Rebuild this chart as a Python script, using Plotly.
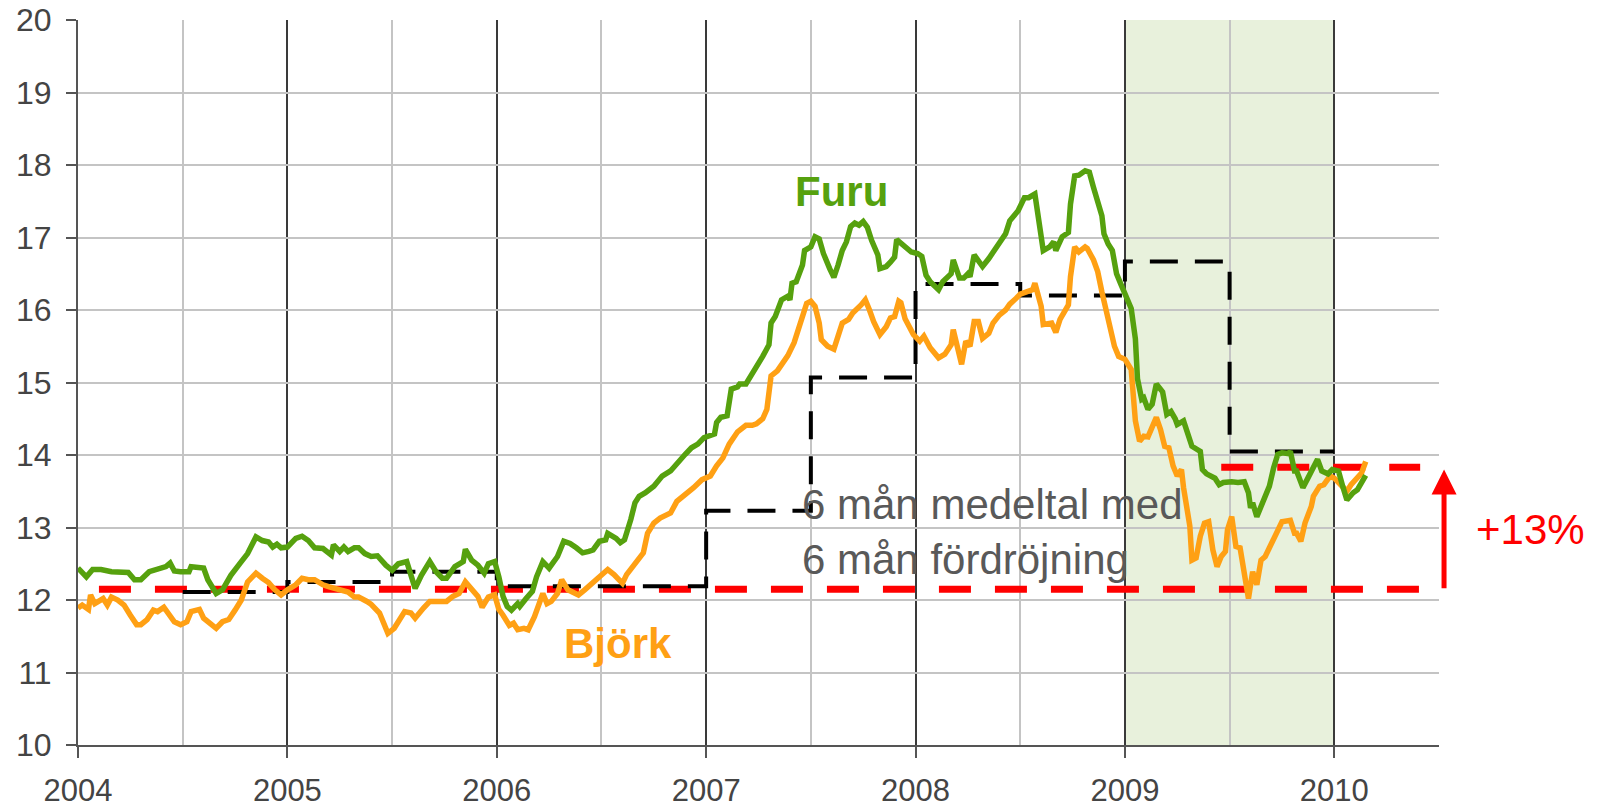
import plotly.graph_objects as go

# ---- data (decimal years, price level) ----
furu_t = [2004.00, 2004.04, 2004.07, 2004.11, 2004.16, 2004.19, 2004.24, 2004.27, 2004.30, 2004.34,
          2004.38, 2004.42, 2004.44, 2004.46, 2004.49, 2004.53, 2004.54, 2004.60, 2004.62, 2004.66,
          2004.69, 2004.73, 2004.78, 2004.81, 2004.85, 2004.88, 2004.91, 2004.93, 2004.95, 2004.97,
          2005.00, 2005.04, 2005.07, 2005.10, 2005.13, 2005.17, 2005.21, 2005.22, 2005.25, 2005.27,
          2005.29, 2005.32, 2005.34, 2005.37, 2005.40, 2005.43, 2005.47, 2005.50, 2005.53, 2005.57,
          2005.61, 2005.64, 2005.68, 2005.71, 2005.74, 2005.76, 2005.80, 2005.84, 2005.85, 2005.88,
          2005.91, 2005.94, 2005.96, 2005.99, 2006.01, 2006.03, 2006.05, 2006.07, 2006.10, 2006.11,
          2006.14, 2006.17, 2006.19, 2006.22, 2006.25, 2006.27, 2006.29, 2006.32, 2006.35, 2006.38,
          2006.41, 2006.44, 2006.46, 2006.49, 2006.52, 2006.53, 2006.57, 2006.59, 2006.61, 2006.64,
          2006.66, 2006.68, 2006.71, 2006.75, 2006.79, 2006.83, 2006.86, 2006.90, 2006.93, 2006.96,
          2006.99, 2007.02, 2007.04, 2007.05, 2007.07, 2007.10, 2007.12, 2007.15, 2007.16, 2007.19,
          2007.21, 2007.23, 2007.25, 2007.27, 2007.30, 2007.31, 2007.33, 2007.36, 2007.39, 2007.40,
          2007.41, 2007.43, 2007.46, 2007.47, 2007.50, 2007.52, 2007.54, 2007.56, 2007.59, 2007.61,
          2007.63, 2007.65, 2007.67, 2007.69, 2007.71, 2007.73, 2007.75, 2007.77, 2007.79, 2007.82,
          2007.83, 2007.86, 2007.88, 2007.90, 2007.91, 2007.94, 2007.96, 2007.98, 2008.01, 2008.03,
          2008.05, 2008.07, 2008.11, 2008.13, 2008.17, 2008.18, 2008.21, 2008.23, 2008.25, 2008.26,
          2008.28, 2008.32, 2008.35, 2008.38, 2008.41, 2008.43, 2008.45, 2008.49, 2008.52, 2008.54,
          2008.57, 2008.59, 2008.61, 2008.64, 2008.66, 2008.67, 2008.70, 2008.73, 2008.74, 2008.76,
          2008.78, 2008.81, 2008.83, 2008.85, 2008.89, 2008.90, 2008.92, 2008.94, 2008.96, 2008.98,
          2009.00, 2009.03, 2009.05, 2009.06, 2009.08, 2009.09, 2009.11, 2009.13, 2009.15, 2009.18,
          2009.20, 2009.22, 2009.24, 2009.25, 2009.28, 2009.30, 2009.32, 2009.36, 2009.37, 2009.39,
          2009.41, 2009.43, 2009.45, 2009.47, 2009.51, 2009.54, 2009.57, 2009.59, 2009.60, 2009.61,
          2009.63, 2009.66, 2009.68, 2009.69, 2009.71, 2009.73, 2009.75, 2009.78, 2009.79, 2009.81,
          2009.82, 2009.85, 2009.87, 2009.90, 2009.92, 2009.94, 2009.97, 2009.99, 2010.02, 2010.04,
          2010.06, 2010.09, 2010.11, 2010.13, 2010.15]
furu_v = [12.44, 12.32, 12.42, 12.42, 12.39, 12.38, 12.38, 12.28, 12.28, 12.39,
          12.42, 12.46, 12.51, 12.40, 12.39, 12.39, 12.46, 12.44, 12.28, 12.09,
          12.14, 12.34, 12.53, 12.64, 12.87, 12.82, 12.80, 12.73, 12.77, 12.72,
          12.73, 12.85, 12.88, 12.82, 12.72, 12.71, 12.62, 12.76, 12.67, 12.73,
          12.67, 12.72, 12.72, 12.64, 12.60, 12.61, 12.48, 12.41, 12.50, 12.53,
          12.16, 12.34, 12.53, 12.39, 12.30, 12.30, 12.46, 12.53, 12.70, 12.55,
          12.48, 12.37, 12.50, 12.53, 12.32, 12.05, 11.91, 11.86, 11.95, 11.91,
          12.02, 12.12, 12.32, 12.53, 12.44, 12.53, 12.60, 12.81, 12.78, 12.72,
          12.65, 12.67, 12.69, 12.81, 12.83, 12.92, 12.85, 12.79, 12.83, 13.11,
          13.34, 13.43, 13.48, 13.57, 13.71, 13.78, 13.89, 14.01, 14.10, 14.15,
          14.24, 14.28, 14.29, 14.45, 14.52, 14.54, 14.91, 14.94, 14.98, 14.98,
          15.07, 15.18, 15.27, 15.36, 15.52, 15.82, 15.91, 16.14, 16.19, 16.14,
          16.37, 16.39, 16.62, 16.82, 16.87, 17.01, 16.98, 16.78, 16.57, 16.45,
          16.62, 16.82, 16.94, 17.15, 17.20, 17.17, 17.22, 17.14, 16.96, 16.76,
          16.57, 16.60, 16.66, 16.73, 16.97, 16.89, 16.85, 16.80, 16.78, 16.74,
          16.48, 16.39, 16.28, 16.39, 16.50, 16.69, 16.44, 16.44, 16.50, 16.46,
          16.76, 16.60, 16.71, 16.85, 16.98, 17.05, 17.23, 17.37, 17.55, 17.55,
          17.60, 17.14, 16.82, 16.87, 16.94, 16.82, 17.01, 17.07, 17.46, 17.85,
          17.86, 17.92, 17.90, 17.69, 17.30, 17.05, 16.91, 16.82, 16.50, 16.36,
          16.23, 16.02, 15.60, 15.05, 14.77, 14.79, 14.63, 14.70, 14.98, 14.87,
          14.56, 14.60, 14.50, 14.42, 14.47, 14.28, 14.12, 14.05, 13.80, 13.74,
          13.71, 13.68, 13.59, 13.62, 13.63, 13.62, 13.63, 13.48, 13.27, 13.34,
          13.15, 13.34, 13.48, 13.57, 13.82, 14.01, 14.03, 14.02, 14.05, 13.78,
          13.78, 13.55, 13.66, 13.85, 13.94, 13.78, 13.74, 13.80, 13.78, 13.57,
          13.38, 13.48, 13.52, 13.62, 13.72]

bjork_t = [2004.00, 2004.02, 2004.05, 2004.06, 2004.08, 2004.10, 2004.12, 2004.14, 2004.16, 2004.19,
           2004.22, 2004.25, 2004.28, 2004.30, 2004.33, 2004.36, 2004.38, 2004.41, 2004.43, 2004.46,
           2004.49, 2004.52, 2004.54, 2004.58, 2004.60, 2004.63, 2004.66, 2004.69, 2004.72, 2004.75,
           2004.78, 2004.81, 2004.83, 2004.85, 2004.88, 2004.91, 2004.94, 2004.97, 2005.00, 2005.04,
           2005.07, 2005.10, 2005.13, 2005.17, 2005.20, 2005.25, 2005.29, 2005.32, 2005.34, 2005.38,
           2005.40, 2005.44, 2005.48, 2005.51, 2005.54, 2005.56, 2005.59, 2005.61, 2005.65, 2005.68,
           2005.72, 2005.76, 2005.79, 2005.82, 2005.85, 2005.88, 2005.91, 2005.93, 2005.96, 2005.99,
           2006.01, 2006.03, 2006.06, 2006.08, 2006.10, 2006.13, 2006.15, 2006.18, 2006.20, 2006.22,
           2006.24, 2006.26, 2006.29, 2006.31, 2006.34, 2006.37, 2006.39, 2006.42, 2006.45, 2006.48,
           2006.51, 2006.53, 2006.56, 2006.58, 2006.60, 2006.62, 2006.64, 2006.67, 2006.70, 2006.72,
           2006.75, 2006.78, 2006.83, 2006.86, 2006.90, 2006.94, 2006.98, 2007.02, 2007.05, 2007.08,
           2007.11, 2007.15, 2007.19, 2007.22, 2007.24, 2007.27, 2007.29, 2007.31, 2007.34, 2007.37,
           2007.39, 2007.42, 2007.44, 2007.46, 2007.48, 2007.50, 2007.52, 2007.54, 2007.55, 2007.58,
           2007.61, 2007.63, 2007.65, 2007.68, 2007.70, 2007.74, 2007.76, 2007.78, 2007.80, 2007.83,
           2007.86, 2007.88, 2007.90, 2007.92, 2007.93, 2007.95, 2007.97, 2007.99, 2008.02, 2008.04,
           2008.07, 2008.11, 2008.14, 2008.17, 2008.18, 2008.21, 2008.22, 2008.24, 2008.26, 2008.28,
           2008.30, 2008.32, 2008.35, 2008.37, 2008.40, 2008.43, 2008.45, 2008.48, 2008.50, 2008.53,
           2008.56, 2008.57, 2008.60, 2008.61, 2008.65, 2008.67, 2008.69, 2008.73, 2008.74, 2008.76,
           2008.78, 2008.81, 2008.82, 2008.85, 2008.87, 2008.89, 2008.92, 2008.95, 2008.97, 2009.00,
           2009.03, 2009.05, 2009.07, 2009.09, 2009.11, 2009.15, 2009.17, 2009.19, 2009.21, 2009.23,
           2009.25, 2009.27, 2009.28, 2009.31, 2009.32, 2009.34, 2009.36, 2009.38, 2009.40, 2009.42,
           2009.44, 2009.46, 2009.48, 2009.49, 2009.51, 2009.53, 2009.55, 2009.57, 2009.59, 2009.61,
           2009.63, 2009.65, 2009.67, 2009.69, 2009.71, 2009.73, 2009.75, 2009.79, 2009.81, 2009.82,
           2009.84, 2009.86, 2009.89, 2009.90, 2009.93, 2009.95, 2009.98, 2010.00, 2010.03, 2010.06,
           2010.08, 2010.10, 2010.13, 2010.15]
bjork_v = [11.89, 11.93, 11.87, 12.07, 11.95, 11.98, 12.02, 11.93, 12.04, 12.00,
           11.93, 11.79, 11.66, 11.66, 11.73, 11.86, 11.84, 11.90, 11.82, 11.70,
           11.66, 11.70, 11.84, 11.87, 11.75, 11.69, 11.61, 11.70, 11.73, 11.86,
           12.00, 12.25, 12.31, 12.37, 12.30, 12.24, 12.14, 12.07, 12.14, 12.21,
           12.30, 12.28, 12.28, 12.21, 12.18, 12.15, 12.11, 12.04, 12.04, 11.98,
           11.94, 11.82, 11.54, 11.61, 11.73, 11.84, 11.82, 11.75, 11.89, 11.98,
           11.98, 11.98, 12.05, 12.09, 12.25, 12.16, 12.05, 11.90, 12.04, 12.07,
           11.87, 11.79, 11.65, 11.68, 11.59, 11.61, 11.59, 11.77, 11.95, 12.09,
           11.95, 11.98, 12.09, 12.28, 12.14, 12.09, 12.07, 12.14, 12.21, 12.28,
           12.37, 12.42, 12.35, 12.30, 12.23, 12.35, 12.42, 12.55, 12.65, 12.92,
           13.06, 13.13, 13.20, 13.36, 13.45, 13.55, 13.66, 13.71, 13.85, 13.96,
           14.15, 14.32, 14.41, 14.41, 14.43, 14.50, 14.63, 15.09, 15.16, 15.30,
           15.37, 15.55, 15.75, 15.91, 16.09, 16.12, 16.05, 15.82, 15.59, 15.50,
           15.46, 15.64, 15.82, 15.87, 15.96, 16.07, 16.14, 16.00, 15.84, 15.66,
           15.77, 15.89, 15.91, 16.12, 16.10, 15.88, 15.75, 15.66, 15.57, 15.64,
           15.48, 15.34, 15.39, 15.52, 15.73, 15.36, 15.25, 15.57, 15.50, 15.84,
           15.84, 15.61, 15.68, 15.82, 15.93, 16.00, 16.08, 16.16, 16.22, 16.25,
           16.28, 16.37, 16.05, 15.80, 15.82, 15.69, 15.87, 16.07, 16.46, 16.87,
           16.80, 16.87, 16.85, 16.69, 16.53, 16.25, 15.90, 15.50, 15.36, 15.32,
           15.18, 14.47, 14.19, 14.26, 14.25, 14.52, 14.35, 14.12, 14.10, 13.85,
           13.71, 13.80, 13.55, 13.02, 12.55, 12.58, 12.88, 13.06, 13.08, 12.69,
           12.46, 12.60, 12.67, 12.97, 13.15, 12.74, 12.72, 12.32, 12.02, 12.39,
           12.21, 12.55, 12.60, 12.72, 12.85, 12.97, 13.08, 13.10, 12.92, 12.92,
           12.81, 13.06, 13.29, 13.43, 13.57, 13.59, 13.71, 13.68, 13.59, 13.50,
           13.59, 13.66, 13.75, 13.91]

# 6-month average with 6-month lag (step values)
avg_t = [2004.5, 2005.0, 2005.5, 2006.0, 2006.5, 2007.0, 2007.5, 2008.0, 2008.5, 2009.0, 2009.5, 2010.0]
avg_v = [12.11, 12.25, 12.39, 12.19, 12.19, 13.23, 15.07, 16.36, 16.20, 16.67, 14.05, 14.05]

# red reference levels
low_level_t = [2004.10, 2010.41]
low_level_v = [12.15, 12.15]
high_level_t = [2009.46, 2010.41]
high_level_v = [13.83, 13.83]
change_label = "+13%"

year_ticks = [2004, 2005, 2006, 2007, 2008, 2009, 2010]
year_labels = [str(y) for y in year_ticks]

GREEN = "#56A10E"
ORANGE = "#FFA014"
FONT = "Liberation Sans, Arial, sans-serif"

fig = go.Figure()

fig.add_shape(type="rect", xref="x", yref="y", x0=2009, x1=2010, y0=10, y1=20,
              fillcolor="#e8f1dc", line=dict(width=0), layer="below")

fig.add_trace(go.Scatter(x=low_level_t, y=low_level_v, mode="lines",
                         line=dict(color="#ff0000", width=7, dash="32px,24px")))
fig.add_trace(go.Scatter(x=high_level_t, y=high_level_v, mode="lines",
                         line=dict(color="#ff0000", width=7, dash="32px,24px")))
fig.add_trace(go.Scatter(x=avg_t, y=avg_v, mode="lines", line_shape="hv",
                         line=dict(color="#000000", width=4, dash="28px,17px")))
fig.add_trace(go.Scatter(x=bjork_t, y=bjork_v, mode="lines",
                         line=dict(color=ORANGE, width=5.5)))
fig.add_trace(go.Scatter(x=furu_t, y=furu_v, mode="lines",
                         line=dict(color=GREEN, width=5.5)))

fig.add_annotation(x=2007.644, y=17.64, text="<b>Furu</b>", showarrow=False,
                   font=dict(family=FONT, size=42, color=GREEN))
fig.add_annotation(x=2006.58, y=11.40, text="<b>Björk</b>", showarrow=False,
                   font=dict(family=FONT, size=42, color=ORANGE))
fig.add_annotation(x=2007.45, y=12.94, text="6 mån medeltal med<br>6 mån fördröjning",
                   showarrow=False, xanchor="left", align="left",
                   font=dict(family=FONT, size=42, color="#595959"))
# label in the right margin (paper x)
fig.add_annotation(x=1.0669, xref="paper", xanchor="center", y=12.97, yref="y",
                   text=change_label, showarrow=False,
                   font=dict(family=FONT, size=42, color="#ff0000"))
# arrow just right of the plot area (paper x), from the lower to the upper level
fig.add_annotation(x=1.0037, xref="paper", y=high_level_v[0] - 0.03, yref="y",
                   ax=0, axref="pixel", ay=low_level_v[0] - 0.01, ayref="y",
                   text="", showarrow=True,
                   arrowhead=2, arrowsize=1, arrowwidth=5, arrowcolor="#ff0000")

fig.update_layout(
    width=1597, height=808,
    margin=dict(l=78, r=158, t=20, b=63),
    plot_bgcolor="white", paper_bgcolor="white",
    showlegend=False,
    font=dict(family=FONT, size=31, color="#444444"),
    xaxis=dict(range=[2004, 2010.5], tickvals=year_ticks, ticktext=year_labels,
               automargin=False,
               showgrid=True, gridcolor="#3a3a3a", gridwidth=1.5,
               minor=dict(dtick=0.5, tick0=2004, showgrid=True, gridcolor="#c4c4c4", gridwidth=2),
               ticks="outside", ticklen=11, tickwidth=1.5, tickcolor="#555555",
               ticklabelstandoff=6,
               showline=True, linecolor="#555555", linewidth=2, zeroline=False,
               tickfont=dict(family=FONT, size=31, color="#444444")),
    yaxis=dict(range=[10, 20], dtick=1, tick0=10, automargin=False,
               showgrid=True, gridcolor="#c4c4c4", gridwidth=2,
               ticks="outside", ticklen=10, tickwidth=1.5, tickcolor="#555555",
               ticklabelstandoff=8,
               showline=True, linecolor="#555555", linewidth=2, zeroline=False,
               tickfont=dict(family=FONT, size=32, color="#444444")),
)

fig.write_html("out.html", config={"displayModeBar": False},
               post_script="document.body.style.margin='0px';document.body.style.overflow='hidden';")
